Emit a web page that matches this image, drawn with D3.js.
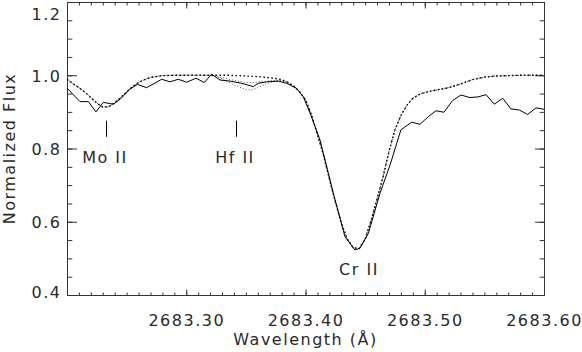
<!doctype html>
<html>
<head>
<meta charset="utf-8">
<title>Cr II 2683 profile</title>
<script src="https://d3js.org/d3.v7.min.js"></script>
<style>
  body { margin: 0; background: #fff; }
  svg text { font-family: "DejaVu Sans", sans-serif; font-size: 16px; letter-spacing: 1.5px; fill: #2a2a2a; }
</style>
</head>
<body>
<svg id="chart" width="582" height="352"></svg>
<script>
// observed spectrum (solid)
var obsWave = [2683.2000, 2683.2109, 2683.2179, 2683.2243, 2683.2304, 2683.2388, 2683.2444, 2683.2528, 2683.2590, 2683.2668,
  2683.2794, 2683.2864, 2683.2933, 2683.3004, 2683.3082, 2683.3151, 2683.3213, 2683.3283, 2683.3367, 2683.3465,
  2683.3562, 2683.3604, 2683.3675, 2683.3772, 2683.3842, 2683.3926, 2683.3982, 2683.4038, 2683.4122, 2683.4233,
  2683.4331, 2683.4415, 2683.4457, 2683.4527, 2683.4625, 2683.4709, 2683.4800, 2683.4891, 2683.4960, 2683.5030,
  2683.5094, 2683.5161, 2683.5234, 2683.5304, 2683.5379, 2683.5449, 2683.5514, 2683.5583, 2683.5654, 2683.5723,
  2683.5793, 2683.5863, 2683.5933, 2683.6000];
var obsFlux = [0.965, 0.928, 0.928, 0.900, 0.926, 0.921, 0.934, 0.962, 0.975, 0.966,
  0.989, 0.982, 0.989, 0.981, 0.992, 0.980, 1.003, 0.987, 0.984, 0.978,
  0.969, 0.978, 0.982, 0.984, 0.978, 0.964, 0.941, 0.897, 0.823, 0.678,
  0.559, 0.523, 0.528, 0.568, 0.678, 0.755, 0.851, 0.872, 0.866, 0.887,
  0.903, 0.899, 0.931, 0.946, 0.939, 0.941, 0.947, 0.921, 0.937, 0.908,
  0.905, 0.893, 0.911, 0.907];

// synthetic spectra (dotted), three Hf abundances
var modelWave = [2683.200, 2683.205, 2683.210, 2683.215, 2683.220, 2683.225, 2683.230, 2683.235, 2683.240, 2683.245,
  2683.250, 2683.255, 2683.260, 2683.265, 2683.270, 2683.280, 2683.290, 2683.300, 2683.310, 2683.320,
  2683.325, 2683.330, 2683.335, 2683.340, 2683.345, 2683.350, 2683.355, 2683.360, 2683.365, 2683.370,
  2683.375, 2683.380, 2683.385, 2683.390, 2683.395, 2683.400, 2683.405, 2683.410, 2683.415, 2683.420,
  2683.425, 2683.430, 2683.435, 2683.440, 2683.445, 2683.450, 2683.455, 2683.460, 2683.465, 2683.470,
  2683.475, 2683.480, 2683.485, 2683.490, 2683.495, 2683.500, 2683.510, 2683.520, 2683.530, 2683.540,
  2683.550, 2683.560, 2683.580, 2683.600];
var modelNoHf = [0.989, 0.977, 0.966, 0.954, 0.939, 0.924, 0.913, 0.914, 0.925, 0.939,
  0.955, 0.969, 0.980, 0.988, 0.994, 0.999, 1.000, 1.000, 1.000, 1.000,
  1.000, 1.000, 1.000, 0.999, 0.999, 0.998, 0.997, 0.996, 0.995, 0.993,
  0.991, 0.988, 0.981, 0.971, 0.955, 0.933, 0.892, 0.838, 0.783, 0.718,
  0.655, 0.597, 0.553, 0.529, 0.527, 0.553, 0.603, 0.662, 0.722, 0.792,
  0.851, 0.890, 0.918, 0.937, 0.947, 0.953, 0.960, 0.966, 0.976, 0.988,
  0.995, 0.998, 1.000, 1.000];
var modelHfMid = [0.989, 0.977, 0.966, 0.954, 0.939, 0.924, 0.913, 0.914, 0.925, 0.939,
  0.955, 0.969, 0.980, 0.988, 0.994, 0.999, 1.000, 1.000, 1.000, 1.000,
  0.998, 0.994, 0.990, 0.986, 0.983, 0.980, 0.980, 0.981, 0.983, 0.985,
  0.986, 0.986, 0.981, 0.971, 0.955, 0.933, 0.892, 0.838, 0.783, 0.718,
  0.655, 0.597, 0.553, 0.529, 0.527, 0.553, 0.603, 0.662, 0.722, 0.792,
  0.851, 0.890, 0.918, 0.937, 0.947, 0.953, 0.960, 0.966, 0.976, 0.988,
  0.995, 0.998, 1.000, 1.000];
var modelHfHigh = [0.989, 0.977, 0.966, 0.954, 0.939, 0.924, 0.913, 0.914, 0.925, 0.939,
  0.955, 0.969, 0.980, 0.988, 0.994, 0.999, 1.000, 1.000, 1.000, 1.000,
  0.996, 0.990, 0.982, 0.974, 0.967, 0.961, 0.960, 0.966, 0.973, 0.980,
  0.984, 0.985, 0.981, 0.971, 0.955, 0.933, 0.892, 0.838, 0.783, 0.718,
  0.655, 0.597, 0.553, 0.529, 0.527, 0.553, 0.603, 0.662, 0.722, 0.792,
  0.851, 0.890, 0.918, 0.937, 0.947, 0.953, 0.960, 0.966, 0.976, 0.988,
  0.995, 0.998, 1.000, 1.000];

// line identifications
var lineNames = ["Mo II", "Hf II", "Cr II"];
var lineWave = [2683.2327, 2683.3417, 2683.4457];
var markTop = [0.876, 0.876, null];
var markBottom = [0.832, 0.832, null];
var labelFlux = [0.760, 0.760, 0.455];

var xTicks = [2683.30, 2683.40, 2683.50, 2683.60];
var yTicks = [0.4, 0.6, 0.8, 1.0, 1.2];

var svg = d3.select("#chart");
var padL = 67, padR = 544, padT = 2, padB = 295;

var x = d3.scaleLinear().domain([2683.20, 2683.60]).range([padL, padR]);
var y = d3.scaleLinear().domain([0.4, 1.2]).range([padB, padT]);

var xMinor = d3.range(2683.20, 2683.6001, 0.01);
var yMinor = d3.range(0.40, 1.2001, 0.05);
var xMajLen = 6, xMinLen = 3, yMajLen = 9.5, yMinLen = 4.8;

function tidy(g) {
  g.select(".domain").remove();
  g.selectAll(".tick line").attr("stroke", "#333");
}

// minor + major ticks on all four sides
svg.append("g").attr("transform", "translate(0," + (padB + 0.5) + ")")
  .call(d3.axisBottom(x).tickValues(xMinor).tickSize(-xMinLen).tickFormat("")).call(tidy);
svg.append("g").attr("transform", "translate(0," + (padT + 0.5) + ")")
  .call(d3.axisTop(x).tickValues(xMinor).tickSize(-xMinLen).tickFormat("")).call(tidy);
svg.append("g").attr("transform", "translate(0," + (padT + 0.5) + ")")
  .call(d3.axisTop(x).tickValues(xTicks).tickSize(-xMajLen).tickFormat("")).call(tidy);
svg.append("g").attr("transform", "translate(" + (padL + 0.5) + ",0)")
  .call(d3.axisLeft(y).tickValues(yMinor).tickSize(-yMinLen).tickFormat("")).call(tidy);
svg.append("g").attr("transform", "translate(" + (padR + 0.5) + ",0)")
  .call(d3.axisRight(y).tickValues(yMinor).tickSize(-yMinLen).tickFormat("")).call(tidy);
svg.append("g").attr("transform", "translate(" + (padR + 0.5) + ",0)")
  .call(d3.axisRight(y).tickValues(yTicks).tickSize(-yMajLen).tickFormat("")).call(tidy);

var xAxis = svg.append("g").attr("transform", "translate(0," + (padB + 0.5) + ")")
  .call(d3.axisBottom(x).tickValues(xTicks).tickSize(-xMajLen).tickFormat(d3.format(".2f"))).call(tidy);
xAxis.attr("font-size", null).attr("font-family", null);
xAxis.selectAll("text").attr("y", 30).attr("dy", 0).attr("fill", "#2a2a2a");

var yAxis = svg.append("g").attr("transform", "translate(" + (padL + 0.5) + ",0)")
  .call(d3.axisLeft(y).tickValues(yTicks).tickSize(-yMajLen).tickFormat(d3.format(".1f"))).call(tidy);
yAxis.attr("font-size", null).attr("font-family", null);
yAxis.selectAll("text")
  .attr("x", -6).attr("dy", 0).attr("fill", "#2a2a2a")
  .attr("y", function(d) {
    var b = y(d) + 6;
    return Math.min(Math.max(b, 19), 297.5) - y(d);
  });

// frame
svg.append("rect")
  .attr("x", padL + 0.5).attr("y", padT + 0.5)
  .attr("width", padR - padL).attr("height", padB - padT)
  .attr("fill", "none").attr("stroke", "#333");

// spectra
svg.append("clipPath").attr("id", "plotclip").append("rect")
  .attr("x", padL).attr("y", padT).attr("width", padR - padL).attr("height", padB - padT);

function series(wave, flux) {
  return wave.map(function(w, i) { return [w, flux[i]]; });
}
var line = d3.line().x(function(d) { return x(d[0]); }).y(function(d) { return y(d[1]); });

var plot = svg.append("g").attr("clip-path", "url(#plotclip)");

plot.append("path").datum(series(modelWave, modelHfHigh))
  .attr("d", line).attr("fill", "none").attr("stroke", "#555")
  .attr("stroke-width", 1).attr("stroke-dasharray", "1,2");
plot.append("path").datum(series(modelWave, modelHfMid))
  .attr("d", line).attr("fill", "none").attr("stroke", "#555")
  .attr("stroke-width", 1).attr("stroke-dasharray", "1,2").attr("stroke-dashoffset", 1);
plot.append("path").datum(series(modelWave, modelNoHf))
  .attr("d", line).attr("fill", "none").attr("stroke", "#000")
  .attr("stroke-width", 1.4).attr("stroke-dasharray", "1.5,2.5");
plot.append("path").datum(series(obsWave, obsFlux))
  .attr("d", line).attr("fill", "none").attr("stroke", "#000")
  .attr("stroke-width", 1);

// line identifications
lineNames.forEach(function(name, i) {
  if (markTop[i] !== null) {
    svg.append("line")
      .attr("x1", Math.round(x(lineWave[i])) + 0.5).attr("x2", Math.round(x(lineWave[i])) + 0.5)
      .attr("y1", y(markTop[i])).attr("y2", y(markBottom[i]))
      .attr("stroke", "#000");
  }
  svg.append("text")
    .attr("x", x(lineWave[i]) - 1).attr("y", y(labelFlux[i]))
    .attr("text-anchor", "middle")
    .text(name);
});

// axis titles
svg.append("text")
  .attr("x", (padL + padR) / 2).attr("y", 345)
  .attr("text-anchor", "middle")
  .text("Wavelength (Å)");
svg.append("text")
  .attr("transform", "translate(15," + ((padT + padB) / 2) + ") rotate(-90)")
  .attr("text-anchor", "middle")
  .text("Normalized Flux");
</script>
</body>
</html>
